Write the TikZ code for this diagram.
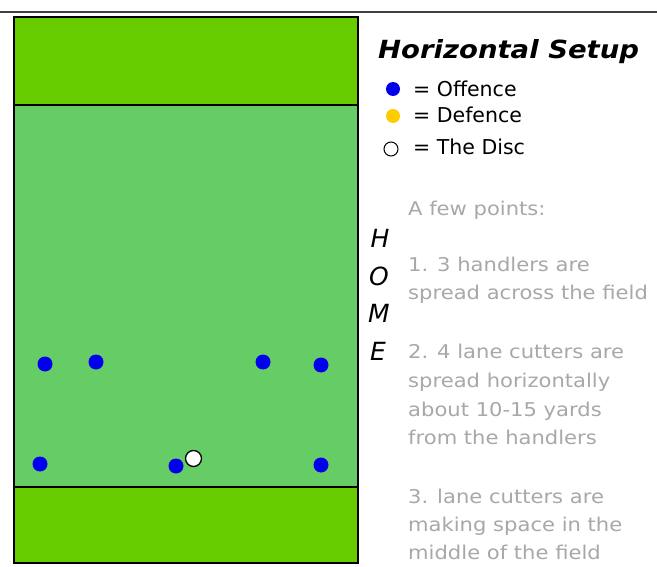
\documentclass[tikz,border=0pt]{standalone}
\usepackage{fontspec}
\setmainfont{DejaVu Sans}
\newfontfamily\wideface[FakeStretch=1.11]{DejaVu Sans}
\newfontfamily\titleface[FakeStretch=1.1]{DejaVu Sans}
\definecolor{endzone}{HTML}{66CC00}
\definecolor{field}{HTML}{66CC66}
\definecolor{offence}{HTML}{0000EE}
\definecolor{defence}{HTML}{FFCC00}
\definecolor{note}{HTML}{A8A8A8}
\begin{document}
\begin{tikzpicture}[x=1pt,y=-1pt,
  zone/.style={draw=black,line width=1.3pt},
  player/.style={circle,fill=offence,inner sep=0pt,minimum size=15pt},
  defplayer/.style={circle,fill=defence,inner sep=0pt,minimum size=14pt},
  disc/.style={circle,draw=black,fill=white,line width=1.3pt,inner sep=0pt,minimum size=16pt},
  legend/.style={anchor=base west,font=\fontsize{20.5}{24}\selectfont,inner sep=0pt},
  notes/.style={anchor=base west,font=\wideface\fontsize{19}{22}\selectfont,text=note,inner sep=0pt},
  homeletter/.style={anchor=base,font=\fontsize{25}{28}\itshape\selectfont,inner sep=0pt}]
\useasboundingbox (0,0) rectangle (657,567);
\fill[white] (0,0) rectangle (657,567);
% top rule
\draw[line width=2pt,color=black!75] (0,12) -- (657,12);
% field
\draw[zone,fill=field] (14,105) rectangle (358,487);
\draw[zone,fill=endzone] (14,17) rectangle (358,105);
\draw[zone,fill=endzone] (14,487) rectangle (358,563);
% players
\node[player] (p1) at (45,364) {};
\node[player] (p2) at (96,362) {};
\node[player] (p3) at (263,362) {};
\node[player] (p4) at (321,365) {};
\node[player] (h1) at (40,464) {};
\node[player] (h2) at (176,466) {};
\node[player] (h3) at (321,465) {};
\node[disc] (d) at (193.5,458.5) {};
% title
\node[anchor=base west,inner sep=0pt,font=\titleface\fontsize{25}{28}\bfseries\itshape\selectfont] (title) at (378,59) {Horizontal Setup};
% legend
\node[player,minimum size=14pt] (lo) at (393,89) {};
\node[legend] (lot) at (413,97) {= Offence};
\node[defplayer,minimum size=14pt] (ld) at (393,116) {};
\node[legend] (ldt) at (413,123) {= Defence};
\node[disc,minimum size=14pt,line width=1pt] (lc) at (391,149) {};
\node[legend] (lct) at (413,155) {= The Disc};
% home
\node[homeletter] (hH) at (380,248) {H};
\node[homeletter] (hO) at (379,286) {O};
\node[homeletter] (hM) at (379,323) {M};
\node[homeletter] (hE) at (378,360) {E};
% notes
\node[notes] (n0) at (408,216) {A few points:};
\node[notes] (n1) at (408,272) {1. 3 handlers are};
\node[notes] (n2) at (408,300) {spread across the field};
\node[notes] (n3) at (408,359) {2. 4 lane cutters are};
\node[notes] (n4) at (408,388) {spread horizontally};
\node[notes] (n5) at (408,416) {about 10-15 yards};
\node[notes] (n6) at (408,444) {from the handlers};
\node[notes] (n7) at (408,503) {3. lane cutters are};
\node[notes] (n8) at (408,531) {making space in the};
\node[notes] (n9) at (408,559) {middle of the field};
\end{tikzpicture}
\end{document}
